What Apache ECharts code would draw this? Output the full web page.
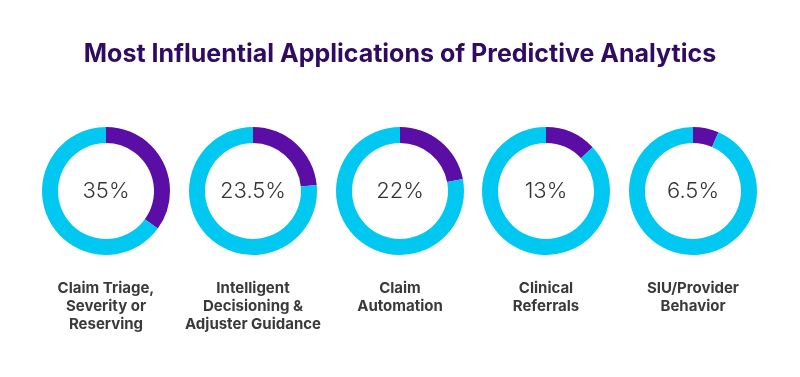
<!DOCTYPE html>
<html>
<head>
<meta charset="utf-8">
<script src="https://cdn.jsdelivr.net/npm/echarts@6/dist/echarts.min.js"></script>
<style>
  html, body { margin: 0; padding: 0; background: #fff; }
  #chart { width: 800px; height: 377px; }
</style>
</head>
<body>
<div id="chart"></div>
<script>
// data
var categories = [
  'Claim Triage,\nSeverity or\nReserving',
  'Intelligent\nDecisioning &\nAdjuster Guidance',
  'Claim\nAutomation',
  'Clinical\nReferrals',
  'SIU/Provider\nBehavior'
];
var shares = [35, 23.5, 22, 13, 6.5];
var centersX = [106, 253, 400, 546, 693];

var chart = echarts.init(document.getElementById('chart'));

var FONT = 'Inter, "Open Sans", sans-serif';
var titles = [{
  text: 'Most Influential Applications of Predictive Analytics',
  left: 'center',
  top: 42,
  padding: 0,
  textStyle: { color: '#2f0b62', fontSize: 25, fontWeight: 'bold', fontFamily: FONT }
}];
var series = [];

shares.forEach(function (v, i) {
  series.push({
    type: 'pie',
    center: [centersX[i], 191],
    radius: [48, 64],
    startAngle: 90,
    silent: true,
    label: { show: false },
    labelLine: { show: false },
    data: [
      { value: v, itemStyle: { color: '#5a0ea6' } },
      { value: 100 - v, itemStyle: { color: '#00c8f0' } }
    ]
  });
  // percentage in the middle
  titles.push({
    text: v + '%',
    left: centersX[i],
    top: 180,
    padding: 0,
    textAlign: 'center',
    textStyle: { color: '#333', fontSize: 22, fontWeight: 300, fontFamily: FONT }
  });
  // category name under the ring
  titles.push({
    text: categories[i],
    left: centersX[i],
    top: 279,
    padding: 0,
    textAlign: 'center',
    textStyle: { color: '#3a3a3a', fontSize: 15, fontWeight: 'bold', lineHeight: 18, fontFamily: FONT }
  });
});

chart.setOption({
  animation: false,
  title: titles,
  series: series
});
</script>
</body>
</html>
